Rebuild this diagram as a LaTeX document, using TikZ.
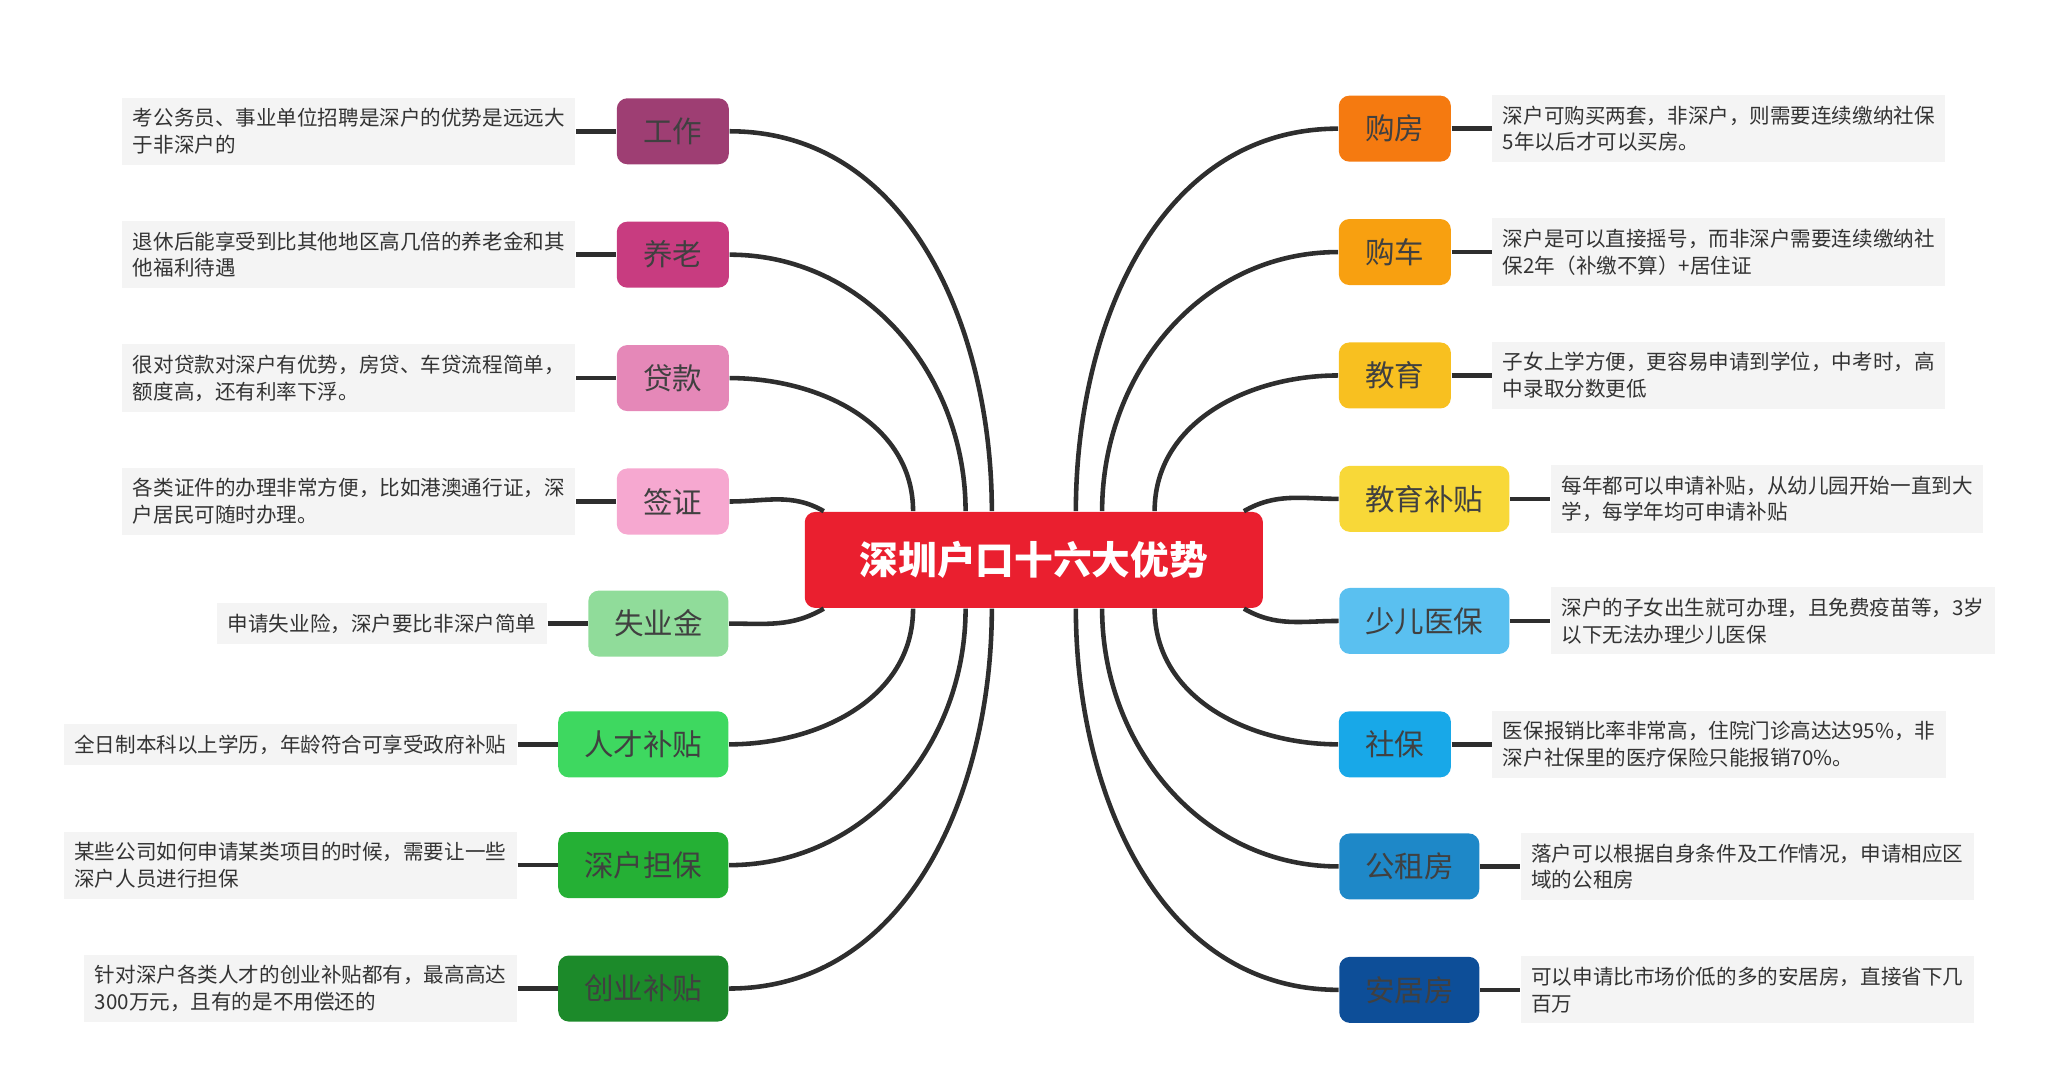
\documentclass[tikz,border=0pt]{standalone}
\usepackage{fontspec}
\setmainfont{Noto Sans CJK SC}
\usetikzlibrary{positioning,calc}
\definecolor{hubred}{HTML}{EA1F2F}
\definecolor{descgray}{HTML}{F4F4F4}
\definecolor{linkgray}{HTML}{2E2E2E}
\definecolor{cgz}{HTML}{9E3E73}
\definecolor{cyl}{HTML}{C83C80}
\definecolor{cdk}{HTML}{E588B8}
\definecolor{cqz}{HTML}{F6A8D0}
\definecolor{csyj}{HTML}{90DC9A}
\definecolor{crc}{HTML}{3ED860}
\definecolor{cdb}{HTML}{25B035}
\definecolor{ccy}{HTML}{1C8A2A}
\definecolor{cgf}{HTML}{F57A10}
\definecolor{cgc}{HTML}{F8A010}
\definecolor{cjy}{HTML}{F8C020}
\definecolor{cjb}{HTML}{F8D838}
\definecolor{cey}{HTML}{5AC0F0}
\definecolor{csb}{HTML}{18A8E8}
\definecolor{cgzf}{HTML}{1E88C8}
\definecolor{cajf}{HTML}{0D4E98}
\tikzset{
  topic/.style={rounded corners=3pt, minimum height=6.6mm, inner sep=0pt, text=black!75, font=\fontsize{8.4}{10}\selectfont},
  desc/.style={fill=descgray, align=left, inner sep=3pt, text=black!80, font=\fontsize{5.85}{7.6}\selectfont},
  link/.style={draw=linkgray, line width=1.3pt},
}
\begin{document}
\begin{tikzpicture}[x=0.01313cm,y=-0.01313cm]
\useasboundingbox (0,0) rectangle (1560,823);
% centre
\node[fill=hubred, rounded corners=3pt, minimum width=45.8mm, minimum height=9.6mm, text=white, font=\fontsize{11}{13}\bfseries] (hub) at (787.5,426.5) {深圳户口十六大优势};
% left topics
\node[topic, fill=cgz, minimum width=11.2mm] (gz) at (512.5,100) {工作};
\node[topic, fill=cyl, minimum width=11.2mm] (yl) at (512.5,194) {养老};
\node[topic, fill=cdk, minimum width=11.2mm] (dk) at (512.5,288) {贷款};
\node[topic, fill=cqz, minimum width=11.2mm] (qz) at (512.5,382) {签证};
\node[topic, fill=csyj, minimum width=14mm] (syj) at (501.5,475) {失业金};
\node[topic, fill=crc, minimum width=17mm] (rc) at (490,567) {人才补贴};
\node[topic, fill=cdb, minimum width=17mm] (db) at (490,659) {深户担保};
\node[topic, fill=ccy, minimum width=17mm] (cy) at (490,753) {创业补贴};
% right topics
\node[topic, fill=cgf, minimum width=11.2mm] (gf) at (1062.5,98) {购房};
\node[topic, fill=cgc, minimum width=11.2mm] (gc) at (1062.5,192) {购车};
\node[topic, fill=cjy, minimum width=11.2mm] (jy) at (1062.5,286) {教育};
\node[topic, fill=cjb, minimum width=17mm] (jb) at (1085,380) {教育补贴};
\node[topic, fill=cey, minimum width=17mm] (ey) at (1085,473) {少儿医保};
\node[topic, fill=csb, minimum width=11.2mm] (sb) at (1062.5,567) {社保};
\node[topic, fill=cgzf, minimum width=14mm] (gzf) at (1073.5,660) {公租房};
\node[topic, fill=cajf, minimum width=14mm] (ajf) at (1073.5,754) {安居房};
% left descriptions
\node[desc, left=4mm of gz] (gzd) {考公务员、事业单位招聘是深户的优势是远远大\\于非深户的};
\node[desc, left=4mm of yl] (yld) {退休后能享受到比其他地区高几倍的养老金和其\\他福利待遇};
\node[desc, left=4mm of dk] (dkd) {很对贷款对深户有优势，房贷、车贷流程简单，\\额度高，还有利率下浮。};
\node[desc, left=4mm of qz] (qzd) {各类证件的办理非常方便，比如港澳通行证，深\\户居民可随时办理。};
\node[desc, left=4mm of syj] (syjd) {申请失业险，深户要比非深户简单};
\node[desc, left=4mm of rc] (rcd) {全日制本科以上学历，年龄符合可享受政府补贴};
\node[desc, left=4mm of db] (dbd) {某些公司如何申请某类项目的时候，需要让一些\\深户人员进行担保};
\node[desc, left=4mm of cy] (cyd) {针对深户各类人才的创业补贴都有，最高高达\\300万元，且有的是不用偿还的};
% right descriptions
\node[desc, right=4mm of gf] (gfd) {深户可购买两套，非深户，则需要连续缴纳社保\\5年以后才可以买房。};
\node[desc, right=4mm of gc] (gcd) {深户是可以直接摇号，而非深户需要连续缴纳社\\保2年（补缴不算）+居住证};
\node[desc, right=4mm of jy] (jyd) {子女上学方便，更容易申请到学位，中考时，高\\中录取分数更低};
\node[desc, right=4mm of jb] (jbd) {每年都可以申请补贴，从幼儿园开始一直到大\\学，每学年均可申请补贴};
\node[desc, right=4mm of ey] (eyd) {深户的子女出生就可办理，且免费疫苗等，3岁\\以下无法办理少儿医保};
\node[desc, right=4mm of sb] (sbd) {医保报销比率非常高，住院门诊高达达95\%，非\\深户社保里的医疗保险只能报销70\%。};
\node[desc, right=4mm of gzf] (gzfd) {落户可以根据自身条件及工作情况，申请相应区\\域的公租房};
\node[desc, right=4mm of ajf] (ajfd) {可以申请比市场价低的多的安居房，直接省下几\\百万};
% short links
\foreach \t in {gz,yl,dk,qz,syj,rc,db,cy}
  \draw[link] (\t d.east) -- (\t.west);
\foreach \t in {gf,gc,jy,jb,ey,sb,gzf,ajf}
  \draw[link] (\t.east) -- (\t d.west);
% branches
\draw[link] (gz.east) to[out=0,in=90] ($(hub.north)+(-32,0)$);
\draw[link] (yl.east) to[out=0,in=90] ($(hub.north)+(-52,0)$);
\draw[link] (dk.east) to[out=0,in=90] ($(hub.north)+(-92,0)$);
\draw[link] (qz.east) to[out=0,in=150] ($(hub.north)+(-160,0)$);
\draw[link] (syj.east) to[out=0,in=-150] ($(hub.south)+(-160,0)$);
\draw[link] (rc.east) to[out=0,in=-90] ($(hub.south)+(-92,0)$);
\draw[link] (db.east) to[out=0,in=-90] ($(hub.south)+(-52,0)$);
\draw[link] (cy.east) to[out=0,in=-90] ($(hub.south)+(-32,0)$);
\draw[link] (gf.west) to[out=180,in=90] ($(hub.north)+(32,0)$);
\draw[link] (gc.west) to[out=180,in=90] ($(hub.north)+(52,0)$);
\draw[link] (jy.west) to[out=180,in=90] ($(hub.north)+(92,0)$);
\draw[link] (jb.west) to[out=180,in=30] ($(hub.north)+(160,0)$);
\draw[link] (ey.west) to[out=180,in=-30] ($(hub.south)+(160,0)$);
\draw[link] (sb.west) to[out=180,in=-90] ($(hub.south)+(92,0)$);
\draw[link] (gzf.west) to[out=180,in=-90] ($(hub.south)+(52,0)$);
\draw[link] (ajf.west) to[out=180,in=-90] ($(hub.south)+(32,0)$);
\end{tikzpicture}
\end{document}
